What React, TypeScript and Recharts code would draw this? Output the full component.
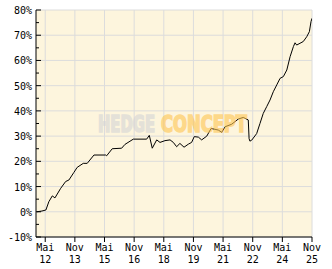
import { CartesianGrid, Line, LineChart, XAxis, YAxis } from "recharts";

// x = months after May 2012
const months = [
  -5.0, -2.0, 0.4, 2.2, 4.3, 5.9, 9.4, 12.4, 14.4, 17.4, 19.4, 23.1, 25.5, 29.6, 36.7, 37.3, 40.7,
  46.4, 48.4, 53.5, 61.6, 63.2, 65.0, 67.7, 69.7, 72.7, 75.8, 77.8, 79.8, 81.8, 84.3, 86.9, 88.9,
  90.5, 93.0, 95.0, 98.1, 100.7, 103.1, 105.1, 107.2, 109.2, 113.2, 117.3, 120.3, 123.3, 123.8,
  124.3, 125.4, 128.4, 130.4, 132.4, 134.5, 136.5, 138.5, 140.6, 142.6, 144.6, 146.7, 148.7, 150.7,
  151.7, 152.7, 154.7, 156.7, 158.8, 160.4, 161.4, 162,
];
const perf = [
  0, 0.3, 0.7, 4, 6.3, 5.5, 9.3, 12, 12.6, 15.6, 17.6, 19.2, 19.2, 22.5, 22.5, 22.2, 25,
  25.2, 26.7, 28.8, 28.8, 30.3, 25.2, 28.5, 27.5, 28.2, 28.5, 27.5, 25.8, 27.1, 25.6, 26.8, 27.5,
  29.8, 29.6, 28.5, 30, 33, 32.7, 32.4, 31.5, 33.7, 34.7, 36.8, 37.4, 36.4, 29,
  28, 28.4, 31, 35, 39, 41.7, 44.3, 47.6, 50.3, 52.9, 53.6, 56.2, 61.5, 65.5,
  67, 66.1, 66.8, 67.5, 69.4, 71.4, 75.4, 76.7,
];

const xTicks = [0, 18, 36, 54, 72, 90, 108, 126, 144, 162];
const xTickLabels = [
  ["Mai", "12"], ["Nov", "13"], ["Mai", "15"], ["Nov", "16"], ["Mai", "18"],
  ["Nov", "19"], ["Mai", "21"], ["Nov", "22"], ["Mai", "24"], ["Nov", "25"],
];
const yTicks = [-10, -5, 0, 5, 10, 15, 20, 25, 30, 35, 40, 45, 50, 55, 60, 65, 70, 75, 80];
const yGrid = [-10, 0, 10, 20, 30, 40, 50, 60, 70, 80];

const rows = months.map((m, i) => ({ m, v: perf[i] }));

const FONT = "'DejaVu Sans Mono', monospace";
const MARK_FONT = "'DejaVu Sans Condensed', 'Liberation Sans', sans-serif";

function YTick({ x, y, payload }: any) {
  const v = payload.value as number;
  const major = v % 10 === 0;
  return (
    <g>
      <line x1={x + 3} x2={x + 3 + (major ? 5 : 3)} y1={y} y2={y} stroke="#000" />
      {major && (
        <text x={x - 1} y={y + 4} textAnchor="end" fontFamily={FONT} fontSize={10} fill="#000">
          {v + "%"}
        </text>
      )}
    </g>
  );
}

function XTick({ x, y, payload }: any) {
  const idx = xTicks.indexOf(payload.value);
  const lab = xTickLabels[idx] || ["", ""];
  return (
    <g>
      <text x={x} y={y + 8} textAnchor="middle" fontFamily={FONT} fontSize={10} fill="#000">
        {lab[0]}
      </text>
      <text x={x} y={y + 20} textAnchor="middle" fontFamily={FONT} fontSize={10} fill="#000">
        {lab[1]}
      </text>
    </g>
  );
}

export default function App() {
  return (
    <div style={{ position: "absolute", left: 0, top: 0, width: 332, height: 269, background: "#fff" }}>
      <LineChart width={332} height={269} data={rows} margin={{ top: 10, right: 20, bottom: 0, left: 0 }}>
        <CartesianGrid
          fill="#fdf5dd"
          stroke="#dcdcdc"
          horizontalValues={yGrid}
          verticalValues={xTicks}
        />
        <XAxis
          dataKey="m"
          type="number"
          domain={[-5.6, 162]}
          ticks={xTicks}
          interval={0}
          height={32}
          tickSize={5}
          tickMargin={1}
          tickLine={{ stroke: "#000" }}
          axisLine={{ stroke: "#000" }}
          tick={<XTick />}
          allowDataOverflow
        />
        <YAxis
          type="number"
          domain={[-10, 80]}
          ticks={yTicks}
          interval={0}
          width={36}
          tickSize={0}
          tickMargin={3}
          axisLine={{ stroke: "#000" }}
          tick={<YTick />}
        />
        <Line
          type="linear"
          dataKey="v"
          stroke="#000"
          strokeWidth={1}
          dot={false}
          isAnimationActive={false}
        />
      </LineChart>
      {/* watermark sits above the line, semi-transparent */}
      <svg
        width={332}
        height={269}
        style={{ position: "absolute", left: 0, top: 0, pointerEvents: "none" }}
      >
        <g opacity={0.6} fontFamily={MARK_FONT} fontWeight="bold" fontSize={18} strokeWidth={1.2}>
          <text
            transform="translate(98,132) scale(1,1.3)"
            textLength={57}
            lengthAdjust="spacingAndGlyphs"
            fill="#d4d4d6"
            stroke="#d4d4d6"
          >
            HEDGE
          </text>
          <text
            transform="translate(161,132) scale(1,1.3)"
            textLength={86}
            lengthAdjust="spacingAndGlyphs"
            fill="#fdc553"
            stroke="#fdc553"
          >
            CONCEPT
          </text>
        </g>
      </svg>
    </div>
  );
}
